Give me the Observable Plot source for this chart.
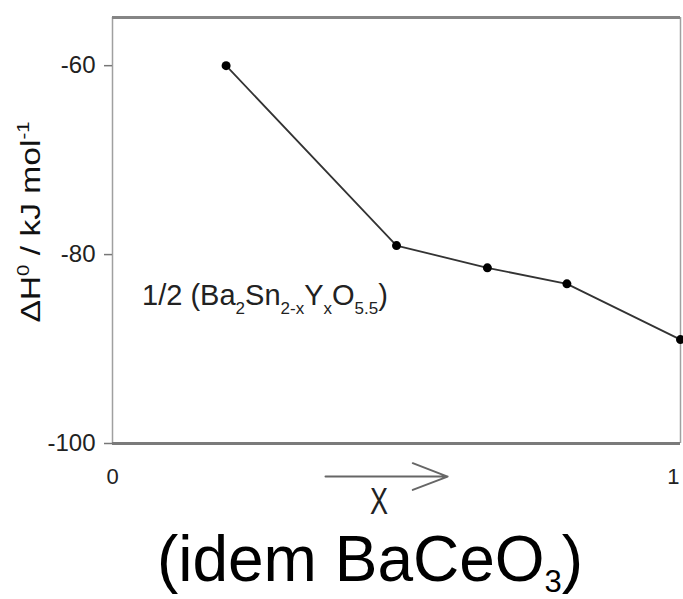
<!DOCTYPE html>
<html><head><meta charset="utf-8">
<script src="https://cdn.jsdelivr.net/npm/d3@7"></script>
<script src="https://cdn.jsdelivr.net/npm/@observablehq/plot@0.6"></script>
<style>
body{margin:0;background:#fff;font-family:"Liberation Sans",Arial,sans-serif;}
#wrap{position:relative;width:683px;height:599px;overflow:hidden;background:#fff;}
#title{position:absolute;left:70px;top:527px;width:600px;text-align:center;font-size:64px;line-height:1;color:#000;white-space:nowrap;}
#title sub{font-size:31px;vertical-align:-11px;line-height:0;}
</style>
</head><body><div id="wrap"><div id="chart"></div><div id="title">(idem BaCeO<sub>3</sub>)</div></div>
<script>
const xValues = [0.2, 0.5, 0.66, 0.8, 1.0];
const dH = [-60, -79.05, -81.4, -83.1, -89.0];
const yTicks = [-60, -80, -100];
const xTicks = [0, 1];
const yDomain = [-100, -54.9];
const xDomain = [0, 1];
const labelPos = {x: 0.053, y: -84.4};
const arrowX = [0.375, 0.59];
const arrowY = -103.5;
const xLabelPos = {x: 0.47, y: -107.5};

const data = xValues.map((x, i) => ({x, y: dH[i]}));
const tickFont = "'Liberation Sans',Arial,sans-serif";

const plot = Plot.plot({
  width: 683,
  height: 520,
  marginTop: 17,
  marginBottom: 77,
  marginLeft: 112,
  marginRight: 3,
  style: {background: "#fff", overflow: "visible"},
  x: {type: "linear", domain: xDomain, axis: null},
  y: {type: "linear", domain: yDomain, axis: null},
  marks: [
    Plot.ruleX(xDomain, {stroke: "#a0a0a0", strokeWidth: 1.5}),
    Plot.ruleY([yDomain[1]], {stroke: "#858585", strokeWidth: 3}),
    Plot.ruleY([yDomain[0]], {stroke: "#7a7a7a", strokeWidth: 3}),
    Plot.axisY(yTicks, {tickSize: 8, tickPadding: 9, fontSize: 24, fill: "#222", stroke: "#777",
      strokeWidth: 1.5, fontFamily: tickFont, label: null, tickFormat: d => String(d)}),
    Plot.text(xTicks, {x: d => d, y: yDomain[0], text: d => String(d), dy: 33, textAnchor: "middle",
      fontSize: 22, fill: "#222", fontFamily: tickFont, className: "xtick"}),
    Plot.line(data, {x: "x", y: "y", stroke: "#333", strokeWidth: 1.8}),
    Plot.dot(data, {x: "x", y: "y", r: 4.5, fill: "#000"}),
    Plot.arrow([arrowX], {x1: d => d[0], x2: d => d[1], y1: arrowY, y2: arrowY,
      stroke: "#666", strokeWidth: 2, headLength: 28, headAngle: 42})
  ]
});
document.getElementById("chart").appendChild(plot);

const sx = plot.scale("x"), sy = plot.scale("y");
const svg = d3.select(plot);

// keep the "1" tick label inside the picture
svg.selectAll(".xtick text").filter(function() { return this.textContent === "1"; })
  .attr("text-anchor", "end").attr("dx", -1);

// series label with subscripts
const lab = svg.append("text")
  .attr("x", sx.apply(labelPos.x))
  .attr("y", sy.apply(labelPos.y))
  .attr("dy", "0.32em")
  .attr("text-anchor", "start")
  .attr("font-size", 29)
  .attr("font-family", tickFont)
  .attr("fill", "#222");
const parts = [["1/2 (Ba",0],["2",1],["Sn",0],["2-x",1],["Y",0],["x",1],["O",0],["5.5",1],[")",0]];
let prev = 0;
for (const [t, s] of parts) {
  const sp = lab.append("tspan").text(t);
  const cur = s ? 9 : 0;
  if (cur - prev) sp.attr("dy", cur - prev);
  if (s) sp.attr("font-size", 17);
  prev = cur;
}

// x label "X" (tall, narrow)
svg.append("text")
  .attr("transform", `translate(${sx.apply(xLabelPos.x)},${sy.apply(xLabelPos.y)}) scale(1,1.4)`)
  .attr("text-anchor", "middle")
  .attr("font-size", 27)
  .attr("font-family", tickFont)
  .attr("fill", "#222")
  .text("X");

// y-axis label
const yl = svg.append("text")
  .attr("transform", "translate(40,222) rotate(-90) scale(1.2,1)")
  .attr("text-anchor", "middle")
  .attr("font-size", 28)
  .attr("font-family", tickFont)
  .attr("fill", "#111");
yl.append("tspan").text("ΔH");
yl.append("tspan").text("0").attr("font-size", 17).attr("dy", -11);
yl.append("tspan").text(" / kJ mol").attr("dy", 11);
yl.append("tspan").text("-1").attr("font-size", 17).attr("dy", -11);
</script>
</body></html>
